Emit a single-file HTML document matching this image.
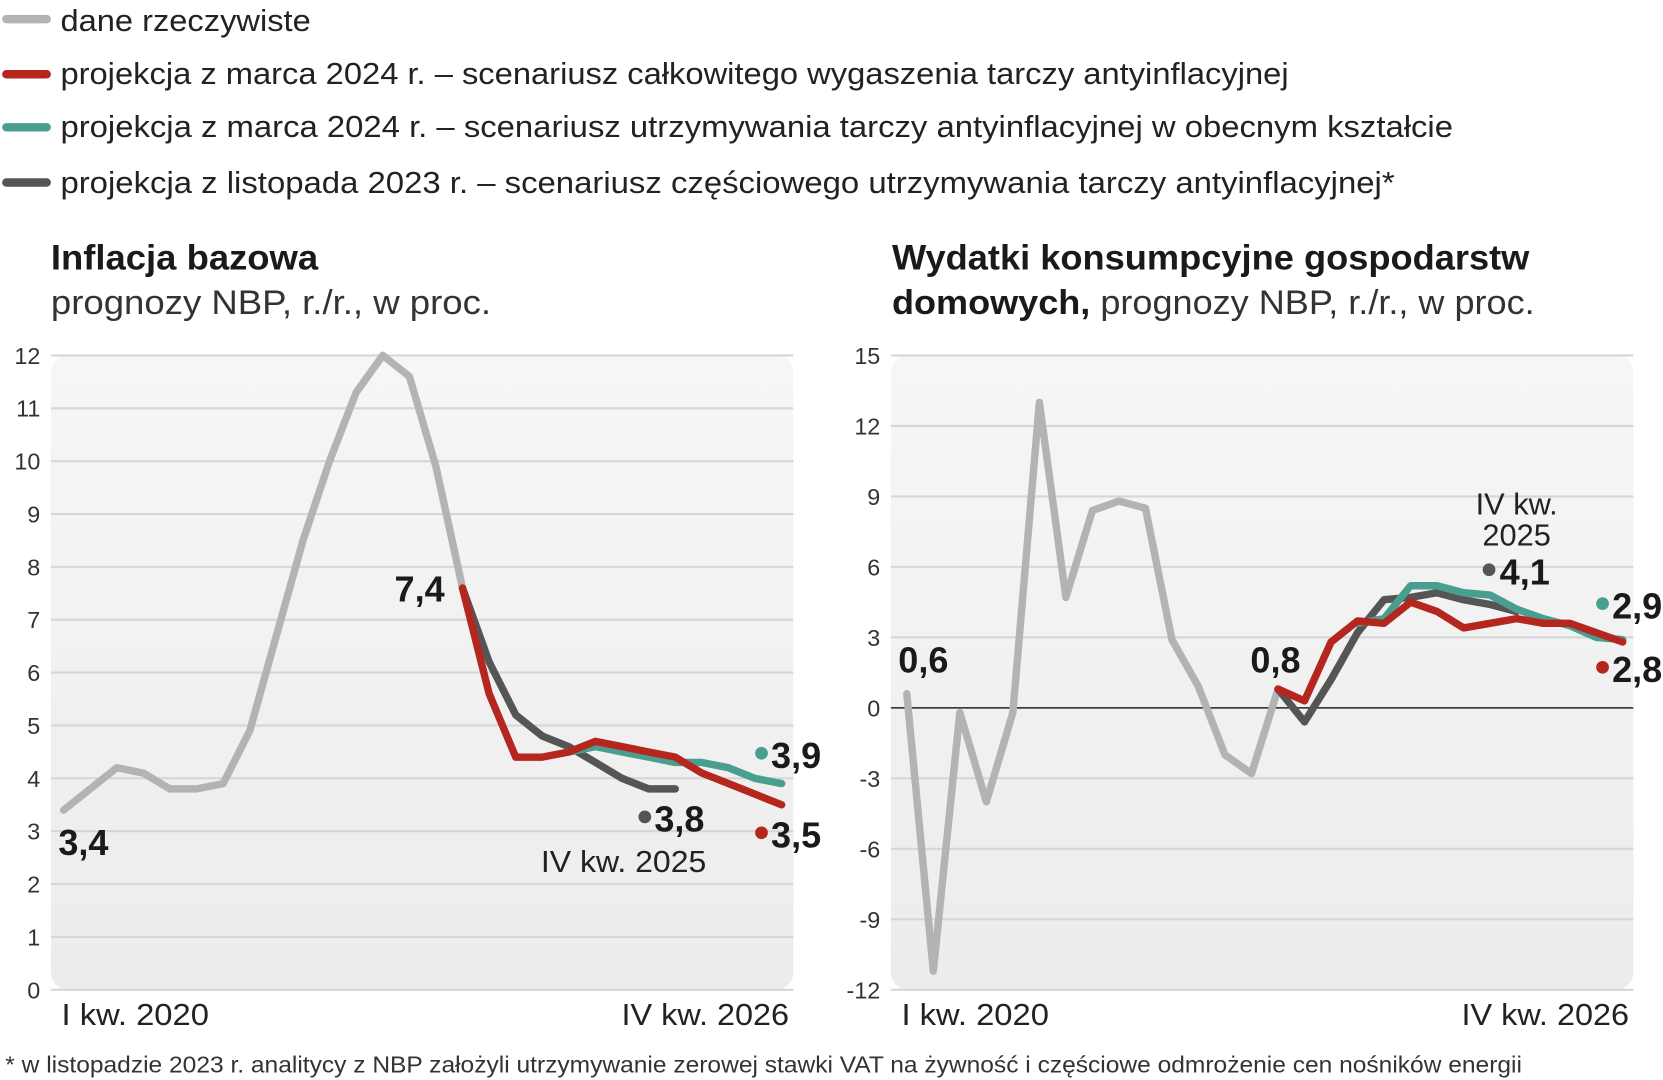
<!DOCTYPE html>
<html><head><meta charset="utf-8"><style>
html,body{margin:0;padding:0;background:#fff;}
svg{display:block;}
text{font-family:"Liberation Sans",sans-serif;}
.lg{font-size:29px;fill:#222;}
.tk{font-size:22px;fill:#333;}
.xl{font-size:29px;fill:#222;}
.num{font-family:"Liberation Sans Narrow","Liberation Sans",sans-serif;font-weight:bold;font-size:34px;fill:#1a1a1a;}
</style></head><body>
<svg id="s" width="1663" height="1080" viewBox="0 0 1568 1018" preserveAspectRatio="none" xmlns="http://www.w3.org/2000/svg">
<defs>
<linearGradient id="bg" x1="0" y1="0" x2="0" y2="1"><stop offset="0" stop-color="#f6f6f6"/><stop offset="1" stop-color="#ececec"/></linearGradient>
</defs>
<g>
<g><line x1="6" y1="18" x2="44" y2="18" stroke="#b3b3b3" stroke-width="8" stroke-linecap="round"/><text class="lg" x="57" y="29" textLength="236" lengthAdjust="spacingAndGlyphs">dane rzeczywiste</text></g>
<g><line x1="6" y1="70" x2="44" y2="70" stroke="#b5261e" stroke-width="8" stroke-linecap="round"/><text class="lg" x="57" y="79" textLength="1158" lengthAdjust="spacingAndGlyphs">projekcja z marca 2024 r. – scenariusz całkowitego wygaszenia tarczy antyinflacyjnej</text></g>
<g><line x1="6" y1="120" x2="44" y2="120" stroke="#4a9e90" stroke-width="8" stroke-linecap="round"/><text class="lg" x="57" y="129" textLength="1313" lengthAdjust="spacingAndGlyphs">projekcja z marca 2024 r. – scenariusz utrzymywania tarczy antyinflacyjnej w obecnym kształcie</text></g>
<g><line x1="6" y1="172" x2="44" y2="172" stroke="#555" stroke-width="8" stroke-linecap="round"/><text class="lg" x="57" y="182" textLength="1258" lengthAdjust="spacingAndGlyphs">projekcja z listopada 2023 r. – scenariusz częściowego utrzymywania tarczy antyinflacyjnej*</text></g>
</g>
<text x="48" y="254" textLength="252" lengthAdjust="spacingAndGlyphs" style="font-size:33px;font-weight:bold;fill:#1a1a1a">Inflacja bazowa</text>
<text x="48" y="296" textLength="415" lengthAdjust="spacingAndGlyphs" style="font-size:32px;fill:#333">prognozy NBP, r./r., w proc.</text>
<text x="841" y="254" textLength="601" lengthAdjust="spacingAndGlyphs" style="font-size:33px;font-weight:bold;fill:#1a1a1a">Wydatki konsumpcyjne gospodarstw</text>
<text x="841" y="296" textLength="606" lengthAdjust="spacingAndGlyphs" style="font-size:32px;fill:#333"><tspan style="font-weight:bold;fill:#1a1a1a">domowych,</tspan> prognozy NBP, r./r., w proc.</text>
<g id="left"></g>
<g id="right"></g>
<text x="5" y="1011" textLength="1430" lengthAdjust="spacingAndGlyphs" style="font-size:22px;fill:#333">* w listopadzie 2023 r. analitycy z NBP założyli utrzymywanie zerowej stawki VAT na żywność i częściowe odmrożenie cen nośników energii</text>
</svg>
<script>
// Left chart data (quarter index 0 = I kw. 2020 ... 27 = IV kw. 2026)
const leftTicks = [0,1,2,3,4,5,6,7,8,9,10,11,12];
const leftActual = [3.4,3.8,4.2,4.1,3.8,3.8,3.9,4.9,6.7,8.5,10.0,11.3,12.0,11.6,9.9,7.6];
const leftRedStart = 15;
const leftRed = [7.6,5.6,4.4,4.4,4.5,4.7,4.6,4.5,4.4,4.1,3.9,3.7,3.5];
const leftTealStart = 19;
const leftTeal = [4.5,4.6,4.5,4.4,4.3,4.3,4.2,4.0,3.9];
const leftDarkStart = 15;
const leftDark = [7.6,6.2,5.2,4.8,4.6,4.3,4.0,3.8,3.8];
// Right chart data
const rightTicks = [-12,-9,-6,-3,0,3,6,9,12,15];
const rightActual = [0.6,-11.2,-0.2,-4.0,-0.2,13.0,4.7,8.4,8.8,8.5,2.9,0.9,-2.0,-2.8,0.8];
const rightRedStart = 14;
const rightRed = [0.8,0.3,2.8,3.7,3.6,4.5,4.1,3.4,3.6,3.8,3.6,3.6,3.2,2.8];
const rightTealStart = 17;
const rightTeal = [3.6,3.8,5.2,5.2,4.9,4.8,4.2,3.8,3.5,3.0,2.9];
const rightDarkStart = 14;
const rightDark = [0.8,-0.6,1.2,3.2,4.6,4.7,4.9,4.6,4.4,4.1];

const NS='http://www.w3.org/2000/svg';
function mk(parent,tag,attrs,txt){const e=document.createElementNS(NS,tag);for(const k in attrs)e.setAttribute(k,attrs[k]);if(txt!==undefined)e.textContent=txt;parent.appendChild(e);return e;}

function chart(g,cfg){
  const px0=cfg.px0,px1=cfg.px1,py0=335,py1=933;
  const ymin=cfg.ticks[0],ymax=cfg.ticks[cfg.ticks.length-1];
  const X=i=>cfg.x0+i*(cfg.x1-cfg.x0)/27;
  const Y=v=>py1-(v-ymin)/(ymax-ymin)*(py1-py0);
  const bg=mk(g,'rect',{x:px0,y:py0,width:px1-px0,height:py1-py0,rx:16,fill:'url(#bg)'});
  
  
  cfg.ticks.forEach(t=>{
    const l=mk(g,'line',{x1:px0,x2:px1,y1:Y(t),y2:Y(t),stroke:t===0&&cfg.zero?'#222':'#d6d6d6','stroke-width':t===0&&cfg.zero?1.5:2});
    
    
    const tx=mk(g,'text',{x:px0-10,y:Y(t)+8,'text-anchor':'end',class:'tk'},String(t));
    
    
  });
  function line(vals,start,color,name){
    const d=vals.map((v,i)=>(i?'L':'M')+X(start+i).toFixed(1)+' '+Y(v).toFixed(1)).join(' ');
    const p=mk(g,'path',{d:d,fill:'none',stroke:color,'stroke-width':7,'stroke-linejoin':'round','stroke-linecap':'round'});
    
    
  }
  line(cfg.actual,0,'#b3b3b3','series-actual');
  line(cfg.dark,cfg.darkStart,'#555555','series-november-2023');
  line(cfg.teal,cfg.tealStart,'#4a9e90','series-march-keep-shield');
  line(cfg.red,cfg.redStart,'#b5261e','series-march-expire-shield');
  const xa=mk(g,'text',{x:cfg.px0+10,y:966,class:'xl',textLength:139,lengthAdjust:'spacingAndGlyphs'},'I kw. 2020');
  
  
  const xb=mk(g,'text',{x:cfg.px1-4-158,y:966,class:'xl',textLength:158,lengthAdjust:'spacingAndGlyphs'},'IV kw. 2026');
  
  
  return {X,Y};
}
function dot(g,x,y,c){const d=mk(g,'circle',{cx:x,cy:y,r:6,fill:c});}
function lab(g,x,y,t,anchor){const e=mk(g,'text',{x:x,y:y,class:'num','text-anchor':anchor||'start'},t);return e;}

const L=document.getElementById('left');
chart(L,{px0:48,px1:748,x0:60,x1:737,ticks:leftTicks,actual:leftActual,red:leftRed,redStart:leftRedStart,teal:leftTeal,tealStart:leftTealStart,dark:leftDark,darkStart:leftDarkStart,zero:false});
lab(L,55,806,'3,4');lab(L,372,567,'7,4');
dot(L,608,770,'#555');lab(L,617,784,'3,8');
dot(L,718,710,'#4a9e90');lab(L,727,724,'3,9');
dot(L,718,785,'#b5261e');lab(L,727,799,'3,5');
const iv=mk(L,'text',{x:510,y:822,class:'xl',textLength:156,lengthAdjust:'spacingAndGlyphs'},'IV kw. 2025');



const R=document.getElementById('right');
chart(R,{px0:840,px1:1540,x0:855,x1:1530,ticks:rightTicks,actual:rightActual,red:rightRed,redStart:rightRedStart,teal:rightTeal,tealStart:rightTealStart,dark:rightDark,darkStart:rightDarkStart,zero:true});
lab(R,847,634,'0,6');lab(R,1179,634,'0,8');
dot(R,1404,537,'#555');lab(R,1414,551,'4,1');
const a1=mk(R,'text',{x:1430,y:485,class:'xl','text-anchor':'middle'},'IV kw.');


const a2=mk(R,'text',{x:1430,y:514,class:'xl','text-anchor':'middle'},'2025');


dot(R,1511,569,'#4a9e90');lab(R,1520,583,'2,9');
dot(R,1511,629,'#b5261e');lab(R,1520,643,'2,8');
</script>
</body></html>
